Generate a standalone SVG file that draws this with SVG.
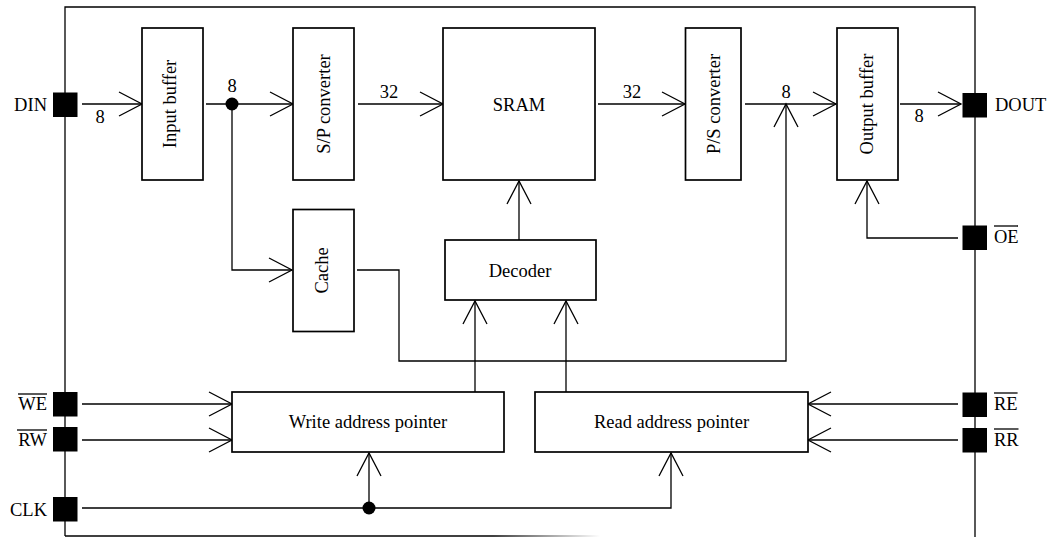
<svg xmlns="http://www.w3.org/2000/svg" width="1048" height="537" viewBox="0 0 1048 537">
<style>
text{font-family:"Liberation Serif","Times New Roman",serif;font-size:18.5px;fill:#000}
.box{fill:#fff;stroke:#000;stroke-width:1.7}
.ln{fill:none;stroke:#000;stroke-width:1.3}
.arr{marker-end:url(#ah)}
.pin{fill:#000}
.c{text-anchor:middle}
.r{text-anchor:end}
</style>
<defs>
<marker id="ah" markerUnits="userSpaceOnUse" markerWidth="30" markerHeight="30" refX="0" refY="0" orient="auto" overflow="visible">
<path d="M-23,-12 L0,0 L-23,12" fill="none" stroke="#000" stroke-width="1.3"/>
</marker>
<linearGradient id="fade" x1="65" y1="0" x2="600" y2="0" gradientUnits="userSpaceOnUse">
<stop offset="0.8" stop-color="#000"/>
<stop offset="1" stop-color="#fff"/>
</linearGradient>
</defs>
<g id="frame">
<path class="ln" d="M65,536 V7 H975 V537"/>
<line x1="65" y1="536" x2="600" y2="536" stroke="url(#fade)" stroke-width="1.3"/>
</g>
<g id="connectors">
<path class="ln arr" d="M82,104 H142"/>
<path class="ln arr" d="M206,104 H293"/>
<path class="ln arr" d="M232,104 V270 H292"/>
<path class="ln arr" d="M358,104 H443"/>
<path class="ln arr" d="M598,104 H685"/>
<path class="ln arr" d="M745,104 H836"/>
<path class="ln arr" d="M900,104 H961"/>
<path class="ln arr" d="M357,270 H399 V361 H786 V104"/>
<path class="ln arr" d="M519,240 V181"/>
<path class="ln arr" d="M475,392 V301"/>
<path class="ln arr" d="M566,392 V301"/>
<path class="ln arr" d="M82,404 H232"/>
<path class="ln arr" d="M82,440 H232"/>
<path class="ln arr" d="M82,508 H671 V453"/>
<path class="ln arr" d="M369,508 V453"/>
<path class="ln arr" d="M958,404 H808"/>
<path class="ln arr" d="M958,440 H808"/>
<path class="ln arr" d="M958,238 H867 V181"/>
<circle cx="232" cy="104" r="6.5" fill="#000"/>
<circle cx="369" cy="508" r="6.5" fill="#000"/>
<text class="c" x="100" y="123">8</text>
<text class="c" x="232" y="92">8</text>
<text class="c" x="389" y="98">32</text>
<text class="c" x="632" y="98">32</text>
<text class="c" x="786" y="98">8</text>
<text class="c" x="919" y="122">8</text>
</g>
<g id="input-buffer">
<rect class="box" x="142" y="28" width="61" height="152"/>
<text class="c" transform="translate(176,104) rotate(-90)">Input buffer</text>
</g>
<g id="sp-converter">
<rect class="box" x="293" y="28" width="61" height="152"/>
<text class="c" transform="translate(330,104) rotate(-90)">S/P converter</text>
</g>
<g id="sram">
<rect class="box" x="443" y="28" width="152" height="152"/>
<text class="c" x="519" y="111">SRAM</text>
</g>
<g id="ps-converter">
<rect class="box" x="685.5" y="28" width="55.5" height="152"/>
<text class="c" transform="translate(719.5,104) rotate(-90)">P/S converter</text>
</g>
<g id="output-buffer">
<rect class="box" x="837" y="28" width="61" height="152"/>
<text class="c" transform="translate(873,104) rotate(-90)">Output buffer</text>
</g>
<g id="cache">
<rect class="box" x="293" y="209.5" width="61" height="122"/>
<text class="c" transform="translate(328,270.5) rotate(-90)">Cache</text>
</g>
<g id="decoder">
<rect class="box" x="445" y="240" width="151" height="60"/>
<text class="c" x="520" y="277">Decoder</text>
</g>
<g id="write-address-pointer">
<rect class="box" x="232" y="392" width="272" height="60"/>
<text class="c" x="368" y="428">Write address pointer</text>
</g>
<g id="read-address-pointer">
<rect class="box" x="535" y="392" width="273" height="60"/>
<text class="c" x="671.5" y="428">Read address pointer</text>
</g>
<g id="pin-din">
<rect class="pin" x="53" y="92.5" width="24.5" height="24.5"/>
<text class="r" x="47" y="111">DIN</text>
</g>
<g id="pin-we">
<rect class="pin" x="53" y="392" width="24.5" height="24.5"/>
<text class="r" x="47" y="410">WE</text>
<line class="ln" x1="18" y1="394" x2="47" y2="394"/>
</g>
<g id="pin-rw">
<rect class="pin" x="53" y="427" width="24.5" height="24.5"/>
<text class="r" x="47" y="446">RW</text>
<line class="ln" x1="17" y1="430" x2="47" y2="430"/>
</g>
<g id="pin-clk">
<rect class="pin" x="53" y="497" width="24.5" height="24.5"/>
<text class="r" x="47" y="516">CLK</text>
</g>
<g id="pin-dout">
<rect class="pin" x="962.5" y="93" width="24.5" height="24.5"/>
<text x="995" y="111">DOUT</text>
</g>
<g id="pin-oe">
<rect class="pin" x="962.5" y="225.5" width="24.5" height="24.5"/>
<text x="994" y="243">OE</text>
<line class="ln" x1="994" y1="226" x2="1018" y2="226"/>
</g>
<g id="pin-re">
<rect class="pin" x="962.5" y="392.5" width="24.5" height="24.5"/>
<text x="994" y="410">RE</text>
<line class="ln" x1="994" y1="393" x2="1017.5" y2="393"/>
</g>
<g id="pin-rr">
<rect class="pin" x="962.5" y="428" width="24.5" height="24.5"/>
<text x="994" y="446">RR</text>
<line class="ln" x1="994" y1="429" x2="1018.5" y2="429"/>
</g>
</svg>
